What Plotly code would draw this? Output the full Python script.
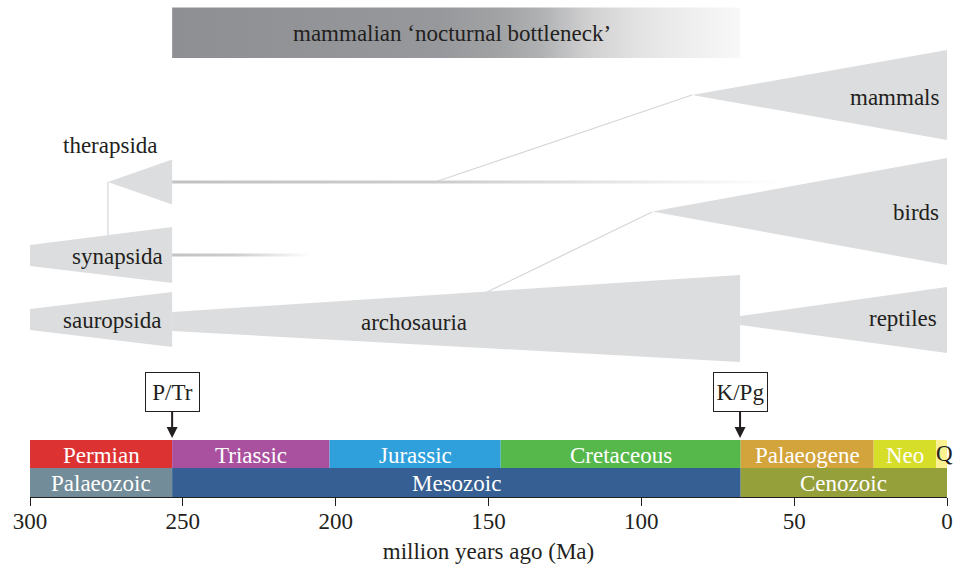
import plotly.graph_objects as go

FONT = "Liberation Serif"
FS = 23

# ---------------- data ----------------
# geological periods (Ma)
period_names = ["Permian", "Triassic", "Jurassic", "Cretaceous", "Palaeogene", "Neo", "Q"]
period_start = [300, 253.5, 202, 146, 67.5, 24, 3.5]
period_end = [253.5, 202, 146, 67.5, 24, 3.5, 0]
period_colors = ["#dd3232", "#a9519f", "#2fa0dc", "#56b84a", "#d3a43c", "#d7de2a", "#fbf191"]

# geological eras (Ma)
era_names = ["Palaeozoic", "Mesozoic", "Cenozoic"]
era_start = [300, 253.5, 67.5]
era_end = [253.5, 67.5, 0]
era_colors = ["#728c99", "#366093", "#96a03b"]

# clades: time span (Ma), vertical centre and half-thickness at each end
clade_names = ["therapsida", "synapsida", "sauropsida", "archosauria", "mammals", "birds", "reptiles"]
clade_t0 = [274.5, 300, 300, 253.5, 83.4, 96.5, 67.7]
clade_t1 = [253.5, 253.5, 253.5, 67.7, 0, 0, 0]
clade_y0 = [182, 255.5, 319.5, 321.5, 95, 211.5, 320.5]
clade_y1 = [182, 255, 319.5, 318.5, 95, 211.5, 320]
clade_h0 = [0, 10.5, 10.5, 9.5, 0, 0, 4.5]
clade_h1 = [22.5, 28, 27.5, 43.5, 45, 53.5, 33]

# thin stem links between clades
link_t0 = [274.5, 167.5, 150.5]
link_t1 = [274.5, 83.4, 96.5]
link_y0 = [182, 182, 292]
link_y1 = [235, 95, 212]

# fading lineage continuations
stem_t0 = [253.5, 253.5]
stem_t1 = [54, 208]
stem_y = [182, 255]

# nocturnal bottleneck period
bottleneck_t0 = 253.5
bottleneck_t1 = 67.7
bottleneck_label = "mammalian \u2018nocturnal bottleneck\u2019"

# extinction events
event_names = ["P/Tr", "K/Pg"]
event_t = [253.5, 67.7]

tick_vals = [300, 250, 200, 150, 100, 50, 0]

# ---------------- figure ----------------
GREY = "#dcddde"
INK = "#231f20"
fig = go.Figure()

# bottleneck gradient bar
fig.add_trace(go.Scatter(
    x=[bottleneck_t0, bottleneck_t1, bottleneck_t1, bottleneck_t0, bottleneck_t0],
    y=[7.5, 7.5, 58, 58, 7.5], mode="lines", line=dict(width=0), fill="toself",
    fillgradient=dict(type="horizontal", start=bottleneck_t1, stop=bottleneck_t0,
                      colorscale=[[0, "#f8f8f8"], [0.09, "#eeeeee"], [0.18, "#e3e3e4"],
                                  [0.27, "#cfcfd0"], [0.35, "#b0b1b3"], [0.42, "#a2a3a5"],
                                  [0.53, "#97989b"], [1, "#8e8f92"]]),
    hoverinfo="skip"))

# links
for a, b, c, d in zip(link_t0, link_t1, link_y0, link_y1):
    fig.add_trace(go.Scatter(x=[a, b], y=[c, d], mode="lines",
                             line=dict(color="#d6d6d6", width=1.2), hoverinfo="skip"))

# fading stems
for a, b, y in zip(stem_t0, stem_t1, stem_y):
    fig.add_trace(go.Scatter(
        x=[a, b, b, a, a], y=[y - 1.6, y - 1.6, y + 1.6, y + 1.6, y - 1.6],
        mode="lines", line=dict(width=0), fill="toself",
        fillgradient=dict(type="horizontal", start=b, stop=a,
                          colorscale=[[0, "#ffffff"], [0.55, "#cdcdcd"], [1, "#c2c2c2"]]),
        hoverinfo="skip"))

# clades
for t0, t1, y0, y1, h0, h1 in zip(clade_t0, clade_t1, clade_y0, clade_y1, clade_h0, clade_h1):
    fig.add_trace(go.Scatter(
        x=[t0, t1, t1, t0, t0],
        y=[y0 - h0, y1 - h1, y1 + h1, y0 + h0, y0 - h0],
        mode="lines", line=dict(width=0, color=GREY), fill="toself", fillcolor=GREY,
        hoverinfo="skip"))

# time scale bands
fig.add_trace(go.Bar(orientation="h", y=[454] * len(period_names),
                     x=[s - e for s, e in zip(period_start, period_end)], base=period_end,
                     width=28, marker=dict(color=period_colors, line=dict(width=0)),
                     hoverinfo="skip"))
fig.add_trace(go.Bar(orientation="h", y=[482.5] * len(era_names),
                     x=[s - e for s, e in zip(era_start, era_end)], base=era_end,
                     width=29, marker=dict(color=era_colors, line=dict(width=0)),
                     hoverinfo="skip"))

ann = []
tf = dict(family=FONT, size=FS, color=INK)
wf = dict(family=FONT, size=FS, color="white")

for n, s, e in zip(period_names, period_start, period_end):
    if n == "Q":
        ann.append(dict(x=s + 0.8, y=453, text=n, showarrow=False, xanchor="left", font=tf))
    else:
        ann.append(dict(x=(s + e) / 2, y=455, text=n, showarrow=False, font=wf))
for n, s, e in zip(era_names, era_start, era_end):
    ann.append(dict(x=(s + e) / 2, y=483, text=n, showarrow=False, font=wf))

# clade labels
label_pos = {
    "therapsida": (273.8, 145, "center"),
    "synapsida": (255.8, 256, "right"),
    "sauropsida": (256.5, 320, "right"),
    "archosauria": (174.3, 322, "center"),
    "mammals": (2.0, 97, "right"),
    "birds": (2.0, 212, "right"),
    "reptiles": (2.6, 318, "right"),
}
for n in clade_names:
    x, y, xa = label_pos[n]
    ann.append(dict(x=x, y=y, text=n, showarrow=False, xanchor=xa, font=tf))

ann.append(dict(x=162, y=33, text=bottleneck_label, showarrow=False, font=tf))

for n, t in zip(event_names, event_t):
    ann.append(dict(x=t, y=438, ax=t, ay=392, xref="x", yref="y", axref="x", ayref="y",
                    text=n, showarrow=True, arrowhead=2, arrowsize=1.1, arrowwidth=2,
                    arrowcolor=INK, bordercolor=INK, borderwidth=1,
                    borderpad=1, bgcolor="white", width=51, height=36,
                    font=dict(family=FONT, size=FS, color=INK)))

fig.update_layout(
    width=955, height=569,
    margin=dict(l=30, r=8, t=0, b=72),
    paper_bgcolor="white", plot_bgcolor="white",
    showlegend=False, barmode="overlay",
    annotations=ann,
    xaxis=dict(range=[300, 0], tickvals=tick_vals, ticks="outside", ticklen=8,
               tickwidth=1, tickcolor=INK, showline=True, linecolor=INK,
               linewidth=1, showgrid=False, zeroline=False, ticklabelstandoff=-5,
               tickfont=dict(family=FONT, size=FS, color=INK),
               title=dict(text="million years ago (Ma)", standoff=10,
                          font=dict(family=FONT, size=FS, color=INK))),
    yaxis=dict(range=[497, 0], visible=False, showgrid=False, zeroline=False),
)

# remove the default page margin so the figure fills the window exactly
fig.write_html("out.html", config={"displayModeBar": False},
               post_script="document.body.style.margin='0';document.body.style.overflow='hidden';")
